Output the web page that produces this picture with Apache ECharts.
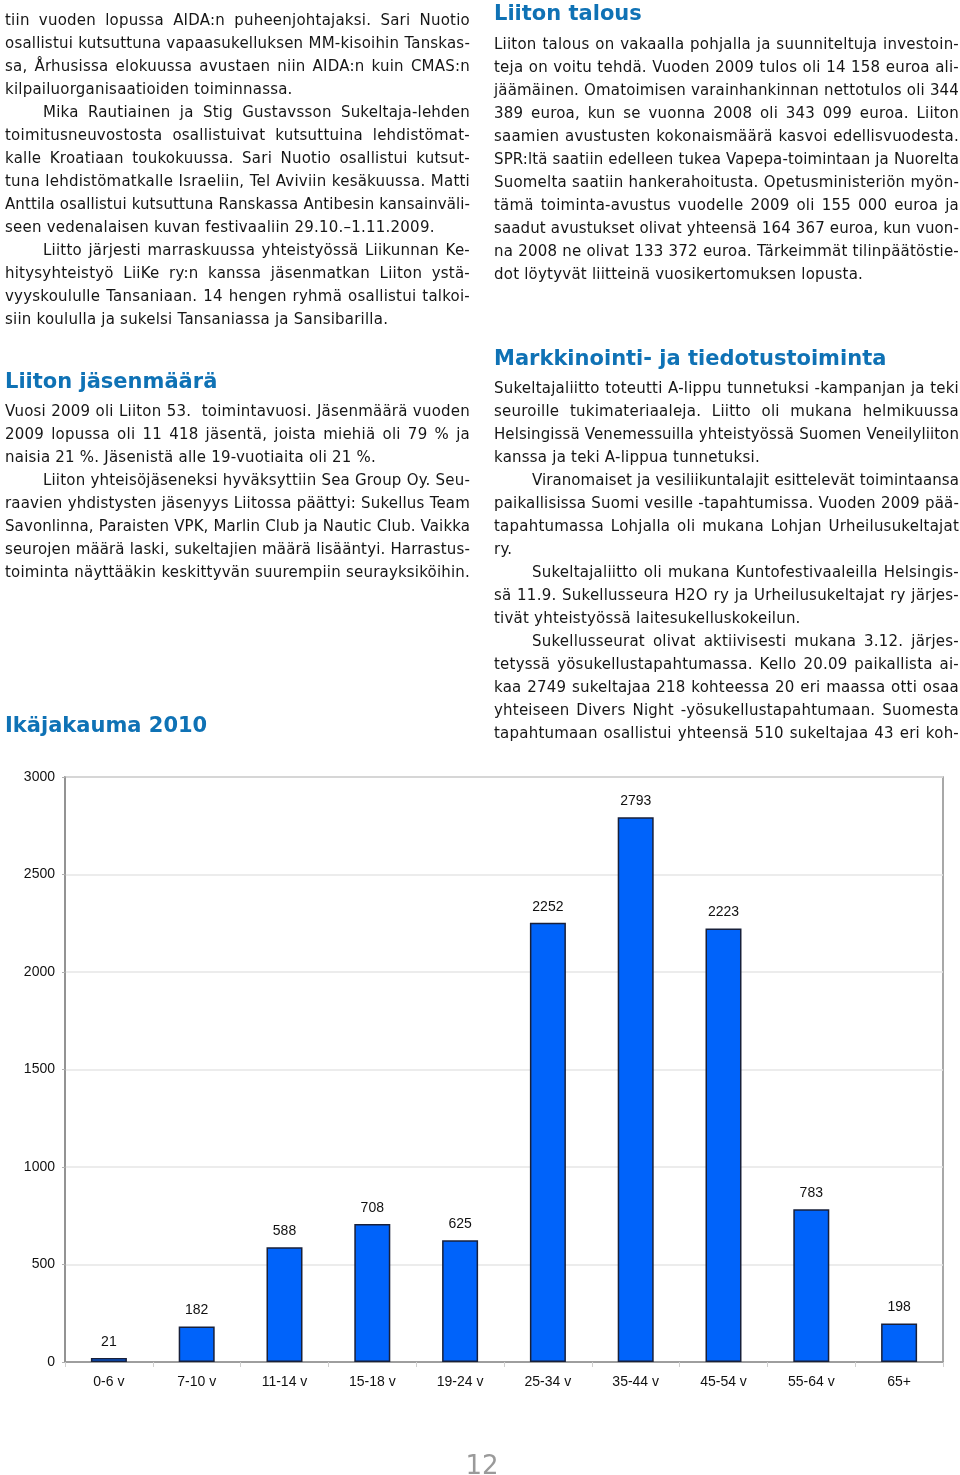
<!DOCTYPE html>
<html>
<head>
<meta charset="utf-8">
<script src="https://cdn.jsdelivr.net/npm/echarts@6/dist/echarts.min.js"></script>
<style>
  html, body { margin: 0; padding: 0; background: #fff; }
  #page { position: relative; width: 960px; height: 1475px; overflow: hidden; }
  #chart { position: absolute; left: 0; top: 0; width: 960px; height: 1475px; }
  .col { position: absolute; width: 465px; font-family: "DejaVu Sans", Verdana, sans-serif; font-size: 15px; line-height: 23px; color: #161616; z-index: 2; }
  .ln { display: block; white-space: nowrap; height: 23px; }
  .ln.full { text-align: justify; text-align-last: justify; }
  .ln.ind { padding-left: 38px; }
  .hd { position: absolute; font-family: "DejaVu Sans", Verdana, sans-serif; font-weight: bold; font-size: 21px; color: #0f72b5; white-space: nowrap; z-index: 2; line-height: 26px; }
  #pnum { position: absolute; left: 0; width: 964px; top: 1449px; text-align: center; font-family: "DejaVu Sans", Verdana, sans-serif; font-size: 26px; color: #9a9a9a; z-index: 2; line-height: 32px; }
</style>
</head>
<body>
<div id="page">
  <div id="chart"></div>
  <div id="pnum">12</div>
</div>
<script>
// ---- chart data ----
const categories = ["0-6 v", "7-10 v", "11-14 v", "15-18 v", "19-24 v", "25-34 v", "35-44 v", "45-54 v", "55-64 v", "65+"];
const members = [21, 182, 588, 708, 625, 2252, 2793, 2223, 783, 198];
const yTicks = [0, 500, 1000, 1500, 2000, 2500, 3000];

// ---- page texts: [text, type] type: f=full justified, l=last line, i=indented full ----
const leftBlock1 = [
  ["tiin vuoden lopussa AIDA:n puheenjohtajaksi. Sari Nuotio", "f"],
  ["osallistui kutsuttuna vapaasukelluksen MM-kisoihin Tanskas-", "f"],
  ["sa, Århusissa elokuussa avustaen niin AIDA:n kuin CMAS:n", "f"],
  ["kilpailuorganisaatioiden toiminnassa.", "l"],
  ["Mika Rautiainen ja Stig Gustavsson Sukeltaja-lehden", "i"],
  ["toimitusneuvostosta osallistuivat kutsuttuina lehdistömat-", "f"],
  ["kalle Kroatiaan toukokuussa. Sari Nuotio osallistui kutsut-", "f"],
  ["tuna lehdistömatkalle Israeliin, Tel Aviviin kesäkuussa. Matti", "f"],
  ["Anttila osallistui kutsuttuna Ranskassa Antibesin kansainväli-", "f"],
  ["seen vedenalaisen kuvan festivaaliin 29.10.–1.11.2009.", "l"],
  ["Liitto järjesti marraskuussa yhteistyössä Liikunnan Ke-", "i"],
  ["hitysyhteistyö LiiKe ry:n kanssa jäsenmatkan Liiton ystä-", "f"],
  ["vyyskoululle Tansaniaan. 14 hengen ryhmä osallistui talkoi-", "f"],
  ["siin koululla ja sukelsi Tansaniassa ja Sansibarilla.", "l"]
];
const leftBlock2 = [
  ["Vuosi 2009 oli Liiton 53.\u00a0 toimintavuosi. Jäsenmäärä vuoden", "f"],
  ["2009 lopussa oli 11 418 jäsentä, joista miehiä oli 79 % ja", "f"],
  ["naisia 21 %. Jäsenistä alle 19-vuotiaita oli 21 %.", "l"],
  ["Liiton yhteisöjäseneksi hyväksyttiin Sea Group Oy. Seu-", "i"],
  ["raavien yhdistysten jäsenyys Liitossa päättyi: Sukellus Team", "f"],
  ["Savonlinna, Paraisten VPK, Marlin Club ja Nautic Club. Vaikka", "f"],
  ["seurojen määrä laski, sukeltajien määrä lisääntyi. Harrastus-", "f"],
  ["toiminta näyttääkin keskittyvän suurempiin seurayksiköihin.", "f"]
];
const rightBlock1 = [
  ["Liiton talous on vakaalla pohjalla ja suunniteltuja investoin-", "f"],
  ["teja on voitu tehdä. Vuoden 2009 tulos oli 14 158 euroa ali-", "f"],
  ["jäämäinen. Omatoimisen varainhankinnan nettotulos oli 344", "f"],
  ["389 euroa, kun se vuonna 2008 oli 343 099 euroa. Liiton", "f"],
  ["saamien avustusten kokonaismäärä kasvoi edellisvuodesta.", "f"],
  ["SPR:ltä saatiin edelleen tukea Vapepa-toimintaan ja Nuorelta", "f"],
  ["Suomelta saatiin hankerahoitusta. Opetusministeriön myön-", "f"],
  ["tämä toiminta-avustus vuodelle 2009 oli 155 000 euroa ja", "f"],
  ["saadut avustukset olivat yhteensä 164 367 euroa, kun vuon-", "f"],
  ["na 2008 ne olivat 133 372 euroa. Tärkeimmät tilinpäätöstie-", "f"],
  ["dot löytyvät liitteinä vuosikertomuksen lopusta.", "l"]
];
const rightBlock2 = [
  ["Sukeltajaliitto toteutti A-lippu tunnetuksi -kampanjan ja teki", "f"],
  ["seuroille tukimateriaaleja. Liitto oli mukana helmikuussa", "f"],
  ["Helsingissä Venemessuilla yhteistyössä Suomen Veneilyliiton", "f"],
  ["kanssa ja teki A-lippua tunnetuksi.", "l"],
  ["Viranomaiset ja vesiliikuntalajit esittelevät toimintaansa", "i"],
  ["paikallisissa Suomi vesille -tapahtumissa. Vuoden 2009 pää-", "f"],
  ["tapahtumassa Lohjalla oli mukana Lohjan Urheilusukeltajat", "f"],
  ["ry.", "l"],
  ["Sukeltajaliitto oli mukana Kuntofestivaaleilla Helsingis-", "i"],
  ["sä 11.9. Sukellusseura H2O ry ja Urheilusukeltajat ry järjes-", "f"],
  ["tivät yhteistyössä laitesukelluskokeilun.", "l"],
  ["Sukellusseurat olivat aktiivisesti mukana 3.12. järjes-", "i"],
  ["tetyssä yösukellustapahtumassa. Kello 20.09 paikallista ai-", "f"],
  ["kaa 2749 sukeltajaa 218 kohteessa 20 eri maassa otti osaa", "f"],
  ["yhteiseen Divers Night -yösukellustapahtumaan. Suomesta", "f"],
  ["tapahtumaan osallistui yhteensä 510 sukeltajaa 43 eri koh-", "f"]
];
const headings = [
  ["Liiton talous", 494, 13],
  ["Markkinointi- ja tiedotustoiminta", 494, 358],
  ["Liiton jäsenmäärä", 5, 381],
  ["Ikäjakauma 2010", 5, 725]
];

const page = document.getElementById('page');
const cv = document.createElement('canvas').getContext('2d');
cv.font = '15px "DejaVu Sans"';
const baseLS = 0.22;
function addBlock(lines, left, firstCenter) {
  const col = document.createElement('div');
  col.className = 'col';
  col.style.left = left + 'px';
  col.style.top = (firstCenter - 11.5) + 'px';
  lines.forEach(([t, k]) => {
    const d = document.createElement('div');
    d.className = 'ln' + ((k === 'f' || k === 'i') ? ' full' : '') + (k === 'i' ? ' ind' : '');
    d.textContent = t;
    const avail = 465 - (k === 'i' ? 38 : 0);
    const w = cv.measureText(t).width + baseLS * t.length;
    let ls = baseLS;
    if (w > avail - 1) ls = baseLS + (avail - 1 - w) / t.length;
    d.style.letterSpacing = ls.toFixed(3) + 'px';
    col.appendChild(d);
  });
  page.appendChild(col);
}
addBlock(leftBlock1, 5, 20);
addBlock(leftBlock2, 5, 411);
addBlock(rightBlock1, 494, 44);
addBlock(rightBlock2, 494, 388);
headings.forEach(([t, x, yc]) => {
  const h = document.createElement('div');
  h.className = 'hd';
  h.textContent = t;
  h.style.left = x + 'px';
  h.style.top = (yc - 13) + 'px';
  page.appendChild(h);
});

// ---- chart ----
const chart = echarts.init(document.getElementById('chart'), null, { renderer: 'canvas' });
const fontFam = '"Liberation Sans", Arial, sans-serif';
chart.setOption({
  animation: false,
  grid: { left: 65, top: 777, width: 878, height: 585, show: true, borderColor: '#8c8c8c', borderWidth: 1.5, backgroundColor: 'transparent' },
  xAxis: {
    type: 'category',
    data: categories,
    axisLine: { show: true, lineStyle: { color: '#8c8c8c', width: 1.5 } },
    axisTick: { show: true, alignWithLabel: false, length: 5, lineStyle: { color: '#cfcfcf' } },
    axisLabel: { color: '#111', fontSize: 14, fontFamily: fontFam, margin: 13 },
    splitLine: { show: false }
  },
  yAxis: {
    type: 'value',
    min: yTicks[0],
    max: yTicks[yTicks.length - 1],
    interval: 500,
    axisLine: { show: true, lineStyle: { color: '#8c8c8c', width: 1.5 } },
    axisTick: { show: true, length: 3, lineStyle: { color: '#b0b0b0' } },
    axisLabel: { color: '#111', fontSize: 14, fontFamily: fontFam, margin: 10, formatter: v => String(v) },
    splitLine: { show: true, lineStyle: { color: '#e6e6e6', width: 1.5 } }
  },
  series: [{
    type: 'bar',
    data: members,
    barWidth: '41%',
    itemStyle: { color: '#0063fa', borderColor: '#18203a', borderWidth: 1.5 },
    label: { show: true, position: 'top', distance: 9, color: '#111', fontSize: 14, fontFamily: fontFam }
  }]
});
</script>
</body>
</html>
